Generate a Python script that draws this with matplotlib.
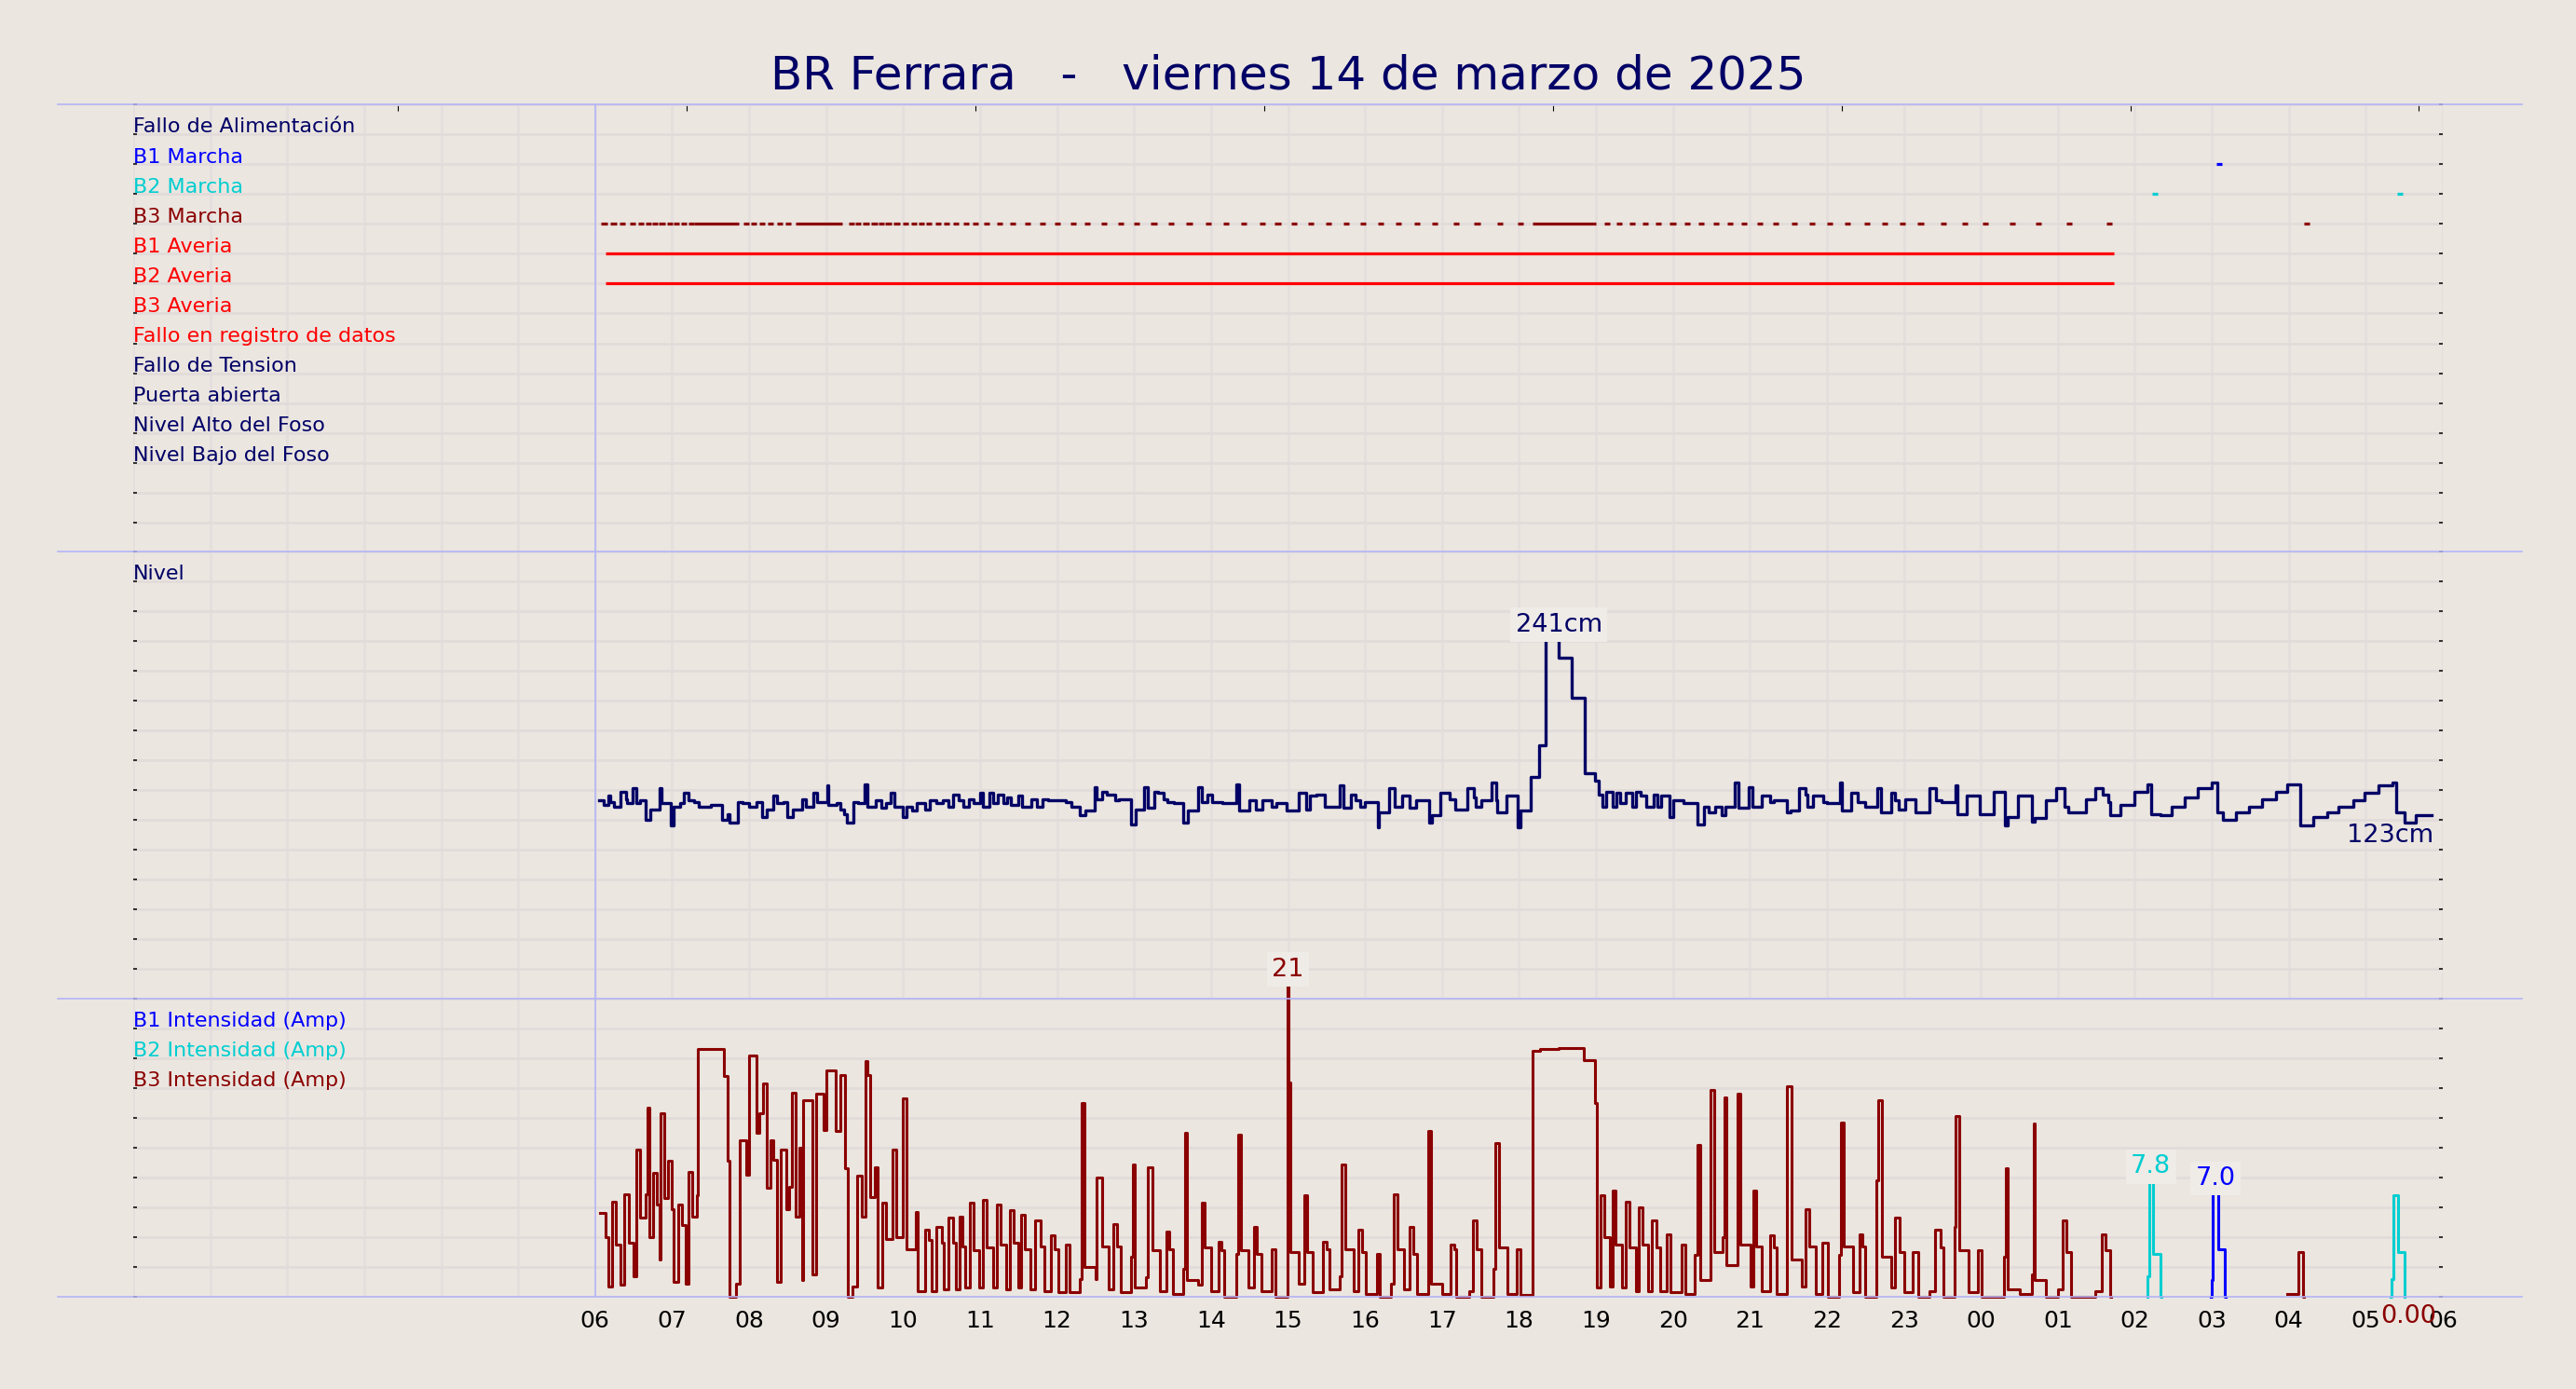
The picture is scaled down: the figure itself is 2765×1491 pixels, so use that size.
import matplotlib
matplotlib.use('Agg')
import matplotlib.pyplot as plt
from matplotlib.lines import Line2D
from matplotlib.ticker import FixedLocator, NullFormatter

nan = float('nan')

# ---------------- data ----------------
title = "BR Ferrara   -   viernes 14 de marzo de 2025"

alarm_labels = ["Fallo de Alimentación", "B1 Marcha", "B2 Marcha", "B3 Marcha",
                "B1 Averia", "B2 Averia", "B3 Averia", "Fallo en registro de datos",
                "Fallo de Tension", "Puerta abierta", "Nivel Alto del Foso",
                "Nivel Bajo del Foso"]
alarm_colors = ["#000066", "blue", "darkturquoise", "darkred", "red", "red", "red",
                "red", "#000066", "#000066", "#000066", "#000066"]

# marcha / averia events (hours since 00:00 of the day)
b3_marcha_dash = [6.08, 6.20, 6.32, 6.45, 6.56, 6.65, 6.74, 6.83, 6.93, 7.02, 7.11, 7.21,
                  7.93, 8.02, 8.13, 8.24, 8.36, 8.47,
                  9.29, 9.38, 9.48, 9.59, 9.68, 9.77, 9.88, 9.99, 10.10, 10.20, 10.30,
                  10.42, 10.53, 10.65, 10.78, 10.90, 11.05, 11.22, 11.39, 11.58, 11.77,
                  11.97, 12.17, 12.35, 12.57, 12.79, 13.00, 13.22, 13.44, 13.68, 13.93,
                  14.16, 14.39, 14.63, 14.83, 15.04, 15.26, 15.49, 15.72, 15.94, 16.17,
                  16.40, 16.64, 16.87, 17.15, 17.42, 17.72, 17.98,
                  19.11, 19.26, 19.43, 19.60, 19.77, 19.96, 20.15, 20.33, 20.52, 20.70,
                  20.89, 21.09, 21.30, 21.54, 21.77, 22.00, 22.23, 22.48, 22.71, 22.94,
                  23.18, 23.48, 23.75, 24.02, 24.37, 24.71, 25.11, 25.63, 28.20]
b3_marcha_start = [7.28, 8.60, 18.18]
b3_marcha_end = [7.87, 9.21, 19.00]
b1_marcha_dash = [27.06]
b2_marcha_dash = [26.22, 29.41]
averia_start = 6.14
averia_end = 25.73

# level (minutes after 06:00, cm)
nivel_min = [3, 7, 10, 12, 15, 20, 24, 25, 29, 32, 35, 39, 43, 50, 52, 59, 61, 66, 69, 73,
             77, 81, 90, 99, 103, 105, 111, 115, 120, 126, 130, 134, 139, 142, 147, 150,
             154, 161, 164, 170, 173, 181, 182, 188, 191, 194, 196, 201, 205, 210, 212,
             219, 223, 227, 230, 233, 240, 243, 247, 251, 257, 261, 266, 271, 275, 279,
             283, 287, 291, 295, 300, 302, 307, 310, 314, 318, 321, 324, 330, 333, 340,
             344, 349, 353, 367, 371, 378, 382, 389, 391, 395, 399, 405, 408, 418, 421,
             428, 431, 436, 439, 443, 446, 451, 458, 462, 470, 473, 477, 481, 489, 500,
             502, 510, 515, 520, 527, 531, 539, 548, 554, 557, 562, 569, 580, 583, 589,
             593, 596, 600, 610, 611, 619, 623, 629, 635, 640, 650, 652, 659, 666, 670,
             680, 685, 686, 691, 699, 702, 703, 710, 719, 721, 729, 736, 741, 751, 761,
             771, 779, 782, 785, 788, 793, 796, 799, 803, 808, 811, 815, 819, 825, 828,
             831, 837, 840, 848, 859, 864, 868, 873, 878, 881, 888, 891, 899, 902, 909,
             916, 919, 929, 932, 938, 943, 945, 949, 957, 960, 970, 972, 979, 984, 990,
             999, 1002, 1010, 1013, 1016, 1021, 1029, 1040, 1045, 1049, 1060, 1062, 1069,
             1079, 1090, 1099, 1101, 1109, 1120, 1122, 1131, 1139, 1145, 1148, 1162, 1169,
             1175, 1179, 1181, 1189, 1200, 1210, 1213, 1220, 1229, 1239, 1249, 1260, 1264,
             1269, 1279, 1289, 1299, 1310, 1319, 1329, 1339, 1350, 1359, 1370, 1379, 1390,
             1401, 1404, 1410, 1419, 1431]
nivel_cm = [133, 130, 136, 132, 129, 139, 134, 131, 141, 131, 133, 120, 127, 141, 131, 116,
            129, 131, 138, 133, 132, 129, 130, 120, 124, 118, 132, 131, 129, 132, 122, 127,
            136, 131, 132, 122, 127, 134, 129, 138, 132, 143, 130, 131, 127, 124, 118, 132,
            131, 144, 129, 133, 128, 131, 138, 129, 122, 129, 126, 131, 127, 133, 131, 133,
            129, 137, 133, 129, 134, 131, 138, 129, 138, 131, 137, 131, 135, 130, 136, 129,
            134, 129, 134, 133, 132, 129, 123, 126, 142, 134, 139, 137, 133, 134, 117, 127,
            142, 128, 139, 138, 134, 132, 131, 118, 126, 142, 132, 137, 132, 131, 144, 126,
            133, 127, 133, 129, 131, 126, 138, 127, 136, 137, 129, 143, 128, 137, 133, 129,
            132, 115, 125, 141, 129, 136, 128, 133, 118, 123, 138, 134, 127, 141, 135, 129,
            133, 145, 133, 125, 136, 115, 126, 149, 170, 241, 229, 202, 151, 146, 137, 129,
            139, 129, 138, 131, 138, 129, 139, 136, 129, 137, 129, 136, 122, 133, 131, 117,
            129, 125, 129, 123, 129, 145, 128, 142, 129, 136, 132, 133, 125, 126, 141, 137,
            129, 136, 132, 131, 145, 126, 138, 132, 129, 141, 125, 138, 133, 127, 134, 125,
            141, 133, 132, 143, 124, 136, 124, 139, 116, 122, 136, 119, 121, 133, 141, 129,
            125, 134, 141, 137, 132, 123, 130, 139, 144, 124, 123, 129, 135, 141, 145, 125,
            120, 125, 129, 134, 139, 144, 116, 122, 125, 129, 133, 138, 143, 145, 125, 118,
            123, 123]

# pump currents (minutes after 06:00, amps); nan = no reading drawn
b3_min = [4, 8, 10, 13, 16, 20, 23, 26, 30, 32, 35, 39, 41, 42, 45, 48, 50.5, 51, 54, 57,
          60, 61, 65, 68, 70.5, 73, 75.5, 79, 80, 100, 103, 105, 110, 113, 118, 120, 126,
          128, 131, 134, 137, 139, 142, 145, 149, 151, 153, 156, 159, 161, 162, 169.5,
          172.5, 178, 180.5, 187.5, 191, 194.5, 197, 200.5, 204.5, 208, 211, 212, 214, 218,
          220.5, 224, 227, 231.5, 234.5, 239.5, 242.5, 250, 251.5, 257, 260, 262, 266, 270,
          272, 275, 279, 281, 284, 286, 288.5, 292, 295, 299, 302, 305, 310, 313, 316, 320,
          323, 326, 330, 332, 335, 339, 343, 347, 350, 355, 358, 361, 367, 370, 378, 379,
          381, 390, 391, 395, 400, 403.5, 407, 410, 418, 419, 420.5, 429.5, 430.5, 434, 440,
          445, 447.5, 450, 458.5, 459.5, 461.5, 470, 472.5, 475, 480, 486, 488, 490, 500,
          501.5, 503.5, 509, 513.5, 516, 519.5, 527, 530, 539.5, 540.5, 542, 548.5, 553,
          555, 559.5, 567, 570, 572, 580, 581.5, 585, 591, 594.5, 597.5, 600.5, 609.5,
          611.5, 620, 622.5, 625.5, 630.5, 634.5, 637.5, 640.5, 649.5, 651.5, 660.5, 667,
          669.5, 671, 681, 684, 687, 690.5, 700, 701.5, 704.5, 711, 718, 721.5, 730.5,
          736.5, 751, 770.5, 779.5, 780.5, 783.5, 786.5, 791, 793, 795.5, 800.5, 803, 806,
          811, 813.5, 816.5, 820.5, 823.5, 827, 830, 835.5, 838, 847, 850, 857, 859, 861.5,
          869, 872.5, 878.5, 880, 881.5, 890.5, 892.5, 900.5, 902.5, 905, 909.5, 915.5,
          918.5, 920.5, 929, 932.5, 940.5, 943.5, 946.5, 951, 956.5, 960.5, 969.5, 971, 973,
          980.5, 985.5, 988, 990, 998.5, 1000, 1003, 1010.5, 1013, 1016.5, 1020.5, 1027,
          1031, 1040, 1044.5, 1048.5, 1050.5, 1059.5, 1060.5, 1063.5, 1070.5, 1077.5,
          1080.5, 1098, 1099.5, 1101, 1110, 1120, 1121, 1122, 1131, 1140, 1144, 1146.5,
          1150.5, 1169, 1174, 1177.5, 1181, 1181.5, 1319, 1327.5, 1331, 1331.5, 1431]
b3_amp = [5.6, 4.0, 0.7, 6.4, 3.5, 0.8, 6.9, 3.6, 1.4, 9.9, 5.3, 6.9, 12.7, 4.0, 8.3, 6.2,
          2.5, 12.3, 6.6, 9.1, 5.9, 1.0, 6.2, 4.8, 0.9, 8.4, 5.4, 6.8, 16.6, 14.8, 9.1, 0,
          0.9, 10.5, 8.2, 16.2, 11.0, 12.3, 14.3, 7.3, 10.5, 9.2, 1.0, 9.9, 5.9, 7.4, 13.7,
          5.4, 10.0, 1.1, 13.2, 1.5, 13.6, 11.2, 15.2, 11.1, 14.9, 8.6, 0, 0.7, 8.1, 5.4,
          15.8, 14.9, 6.7, 8.7, 0.6, 6.3, 3.9, 9.9, 4.0, 13.3, 3.2, 5.7, 0.4, 4.5, 3.8, 0.4,
          4.7, 3.6, 0.5, 5.3, 3.6, 0.5, 5.4, 3.4, 0.6, 6.3, 3.1, 0.6, 6.5, 3.3, 0.6, 6.2,
          3.5, 0.5, 5.8, 3.6, 0.6, 5.5, 3.2, 0.5, 5.1, 3.4, 0.4, 4.1, 3.2, 0.3, 3.5, 0.3,
          1.2, 13.0, 2.0, 1.2, 8.0, 3.4, 0.5, 4.9, 3.4, 0.3, 2.7, 8.9, 0.6, 1.3, 8.7, 3.1,
          0.4, 4.4, 3.2, 0.2, 1.9, 11.0, 1.1, 0.8, 6.3, 3.3, 0.4, 3.7, 3.1, 0, 2.9, 10.9,
          3.1, 0.6, 4.7, 2.9, 0.4, 3.2, 0, 21.0, 14.4, 3.0, 0.9, 6.8, 3.0, 0.3, 3.7, 3.2,
          0.5, 1.4, 8.9, 3.2, 0.4, 4.5, 3.0, 0.2, 2.9, 0, 0.9, 6.9, 3.2, 0.5, 4.7, 2.9, 0.2,
          11.1, 0.9, 0.2, 3.5, 3.2, 0, 0.4, 5.1, 3.2, 0, 1.9, 10.3, 3.3, 0.2, 3.2, 0.1,
          16.5, 16.6, 16.7, 15.9, 13.0, 0.6, 6.8, 4.0, 0.7, 7.1, 3.5, 0.6, 6.4, 3.3, 0.4,
          6.0, 3.5, 0.4, 5.1, 3.3, 0.4, 4.2, 0.3, 3.5, 0.2, 2.8, 10.2, 1.1, 13.9, 3.0, 4.0,
          13.4, 2.1, 13.6, 3.5, 0.7, 7.1, 3.4, 0.4, 4.1, 3.3, 0.2, 14.1, 2.5, 0.7, 5.9, 3.4,
          0.2, 3.6, 0, 2.8, 11.7, 3.4, 0.3, 4.2, 3.4, 0, 7.8, 13.2, 2.7, 0.6, 5.3, 3.0, 0.3,
          3.0, 0, 0.4, 4.5, 3.3, 0, 4.7, 12.1, 3.1, 0.3, 3.1, 0, 2.7, 8.6, 0.5, 0.2, 1.5,
          11.6, 1.1, 0, 0.5, 5.1, 3.0, 0, 0.4, 4.2, 3.1, 0, nan, 0.2, 3.0, 0, nan, 0]
b2_min = [1209.5, 1210, 1211, 1214, 1220, 1220.5, 1399.5, 1400, 1401.5, 1405, 1410, 1410.5]
b2_amp = [0, 1.4, 7.8, 2.9, 0, nan, 0, 1.2, 6.8, 3.0, 0, nan]
b1_min = [1259.5, 1260, 1261, 1265, 1270, 1270.5]
b1_amp = [0, 1.1, 7.0, 3.2, 0, nan]

hour_labels = ["%02d" % (h % 24) for h in range(6, 31)]

# ---------------- style ----------------
bg = '#ebe6e0'
grid_h = '#e1dbda'
grid_v = '#e4dfdd'
edge = '#b4b4f8'
navy = '#000066'
W, H = 2765, 1491


def hours(mins):
    return [6 + m / 60 for m in mins]


def peak(vals):
    clean = [v if v == v else -1 for v in vals]
    return clean.index(max(clean))


fig = plt.figure(figsize=(W / 100, H / 100), dpi=100, facecolor=bg)
L, R = 143 / W, 2622 / W


def box(top, bottom):
    return [L, 1 - bottom / H, R - L, (bottom - top) / H]


ax1 = fig.add_axes(box(112, 593))
ax2 = fig.add_axes(box(592, 1072))
ax3 = fig.add_axes(box(1072, 1392))

for ax, ymax, step in [(ax1, 15, 1), (ax2, 300, 20), (ax3, 20, 2)]:
    ax.set_facecolor(bg)
    ax.set_xlim(0, 30)
    ax.set_ylim(0, ymax)
    for s in ax.spines.values():
        s.set_visible(False)
    ax.yaxis.set_major_locator(FixedLocator([i * step for i in range(int(ymax / step) + 1)]))
    ax.yaxis.set_minor_locator(FixedLocator([i * step * 5 for i in range(int(ymax / step / 5) + 1)]))
    ax.yaxis.set_major_formatter(NullFormatter())
    ax.xaxis.set_minor_locator(FixedLocator(range(31)))
    ax.tick_params(axis='y', which='major', direction='in', length=3, width=1.1,
                   left=True, right=True, color='black')
    ax.tick_params(axis='y', which='minor', length=0)
    ax.tick_params(axis='x', which='minor', length=0)
    ax.grid(True, axis='y', which='major', color=grid_h, lw=2.0)
    ax.grid(True, axis='y', which='minor', color=grid_h, lw=5.0)
    ax.grid(True, axis='x', which='minor', color=grid_v, lw=2.0)
    ax.grid(False, axis='x', which='major')
    ax.set_axisbelow(True)
    ax.axvline(6, color=edge, lw=1.2, zorder=1)

# top ticks of first panel
ax1.set_xticks([3.44 + 3.75 * k for k in range(8)])
ax1.tick_params(axis='x', which='major', top=True, bottom=False, labeltop=False,
                labelbottom=False, direction='in', length=5, width=0.8, color='black')
ax2.set_xticks([])
ax3.set_xticks(range(6, 31))
ax3.set_xticklabels(hour_labels, fontsize=18)
ax3.tick_params(axis='x', which='major', length=0, pad=10)

label_fs = 16
value_fs = 19.5

# ---------------- panel 1: alarms ----------------
rows = list(range(14, 2, -1))
for lab, col, y in zip(alarm_labels, alarm_colors, rows):
    ax1.text(0.0, y + 0.05, lab, color=col, fontsize=label_fs, ha='left', va='baseline')

dash = 0.075
lw_ev = 2.3
ax1.hlines([11] * len(b3_marcha_dash), b3_marcha_dash, [t + dash for t in b3_marcha_dash],
           color='darkred', lw=lw_ev)
ax1.hlines([11] * len(b3_marcha_start), b3_marcha_start, b3_marcha_end, color='darkred', lw=lw_ev)
ax1.hlines([13] * len(b1_marcha_dash), b1_marcha_dash, [t + dash for t in b1_marcha_dash],
           color='blue', lw=lw_ev)
ax1.hlines([12] * len(b2_marcha_dash), b2_marcha_dash, [t + dash for t in b2_marcha_dash],
           color='darkturquoise', lw=lw_ev)
ax1.hlines([10, 9], averia_start, averia_end, color='red', lw=lw_ev)

# ---------------- panel 2: level ----------------
box_style = dict(boxstyle='square,pad=0.2', fc='#efebe7', ec='none')
ax2.text(0.0, 280 + 1, "Nivel", color=navy, fontsize=label_fs, ha='left', va='baseline')
tn = hours(nivel_min)
ax2.plot(tn, nivel_cm, drawstyle='steps-post', color=navy, lw=2.4, zorder=3)
imax = peak(nivel_cm)
ax2.annotate("%dcm" % nivel_cm[imax], (tn[imax + 1], nivel_cm[imax]), xytext=(0, 2),
             textcoords='offset points', ha='center', va='bottom', color=navy,
             fontsize=value_fs, bbox=box_style, zorder=5)
ax2.annotate("%dcm" % nivel_cm[-1], (tn[-1], nivel_cm[-1]), xytext=(2, -6),
             textcoords='offset points', ha='right', va='top', color=navy, fontsize=value_fs)

# ---------------- panel 3: currents ----------------
for y, lab, col in [(18, "B1 Intensidad (Amp)", 'blue'), (16, "B2 Intensidad (Amp)", 'darkturquoise'),
                    (14, "B3 Intensidad (Amp)", 'darkred')]:
    ax3.text(0.0, y + 0.1, lab, color=col, fontsize=label_fs, ha='left', va='baseline')

for mins, amps, col, fmt in [(b3_min, b3_amp, 'darkred', "%.0f"), (b2_min, b2_amp, 'darkturquoise', "%.1f"),
                             (b1_min, b1_amp, 'blue', "%.1f")]:
    t = hours(mins)
    ax3.plot(t, amps, drawstyle='steps-post', color=col, lw=2.2, zorder=3, clip_on=False)
    i = peak(amps)
    ax3.annotate(fmt % amps[i], ((t[i] + t[i + 1]) / 2, amps[i]), xytext=(0, 1.5),
                 textcoords='offset points', ha='center', va='bottom', color=col,
                 fontsize=value_fs, bbox=box_style, zorder=5, annotation_clip=False)

tb = hours(b3_min)
ax3.annotate("%.2f" % b3_amp[-1], (tb[-1], b3_amp[-1]), xytext=(4, -6),
             textcoords='offset points', ha='right', va='top', color='darkred',
             fontsize=value_fs, annotation_clip=False)

# ---------------- frame lines and title ----------------
for y in [112, 592, 1072, 1392]:
    fig.add_artist(Line2D([62 / W, 2707 / W], [1 - y / H, 1 - y / H], color=edge, lw=1.2))

fig.text(0.5, 1 - 81 / H, title, ha='center', va='center', color=navy, fontsize=36)

plt.savefig('out.png', dpi=100, facecolor=bg)
